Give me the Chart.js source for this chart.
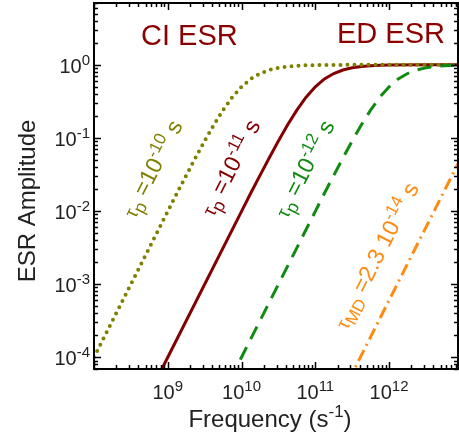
<!DOCTYPE html>
<html><head><meta charset="utf-8">
<script src="https://cdn.jsdelivr.net/npm/chart.js@4/dist/chart.umd.min.js"></script>
<style>html,body{margin:0;padding:0;background:#fff;}canvas{display:block;}</style>
</head><body>
<canvas id="c" width="459" height="437"></canvas>
<script>
const FONT = '"Liberation Sans", Arial, sans-serif';

// Axis ticks (labels drawn as 10 + superscript exponent)
const xMajorTicks = [1e9, 1e10, 1e11, 1e12];
const xMajorExp = ['9', '10', '11', '12'];
const yMajorTicks = [1, 0.1, 0.01, 0.001, 0.0001];
const yMajorExp = ['0', '-1', '-2', '-3', '-4'];

// Series: ESR amplitude vs frequency
const freqTau10 = [1e8, 1e9, 1.33e9, 1.78e9, 2.37e9, 3.16e9, 4.22e9, 5.62e9, 7.5e9, 1e10, 1.33e10, 1.78e10, 2.37e10, 3.16e10, 4.22e10, 5.62e10, 7.5e10, 1e11, 3.16e11, 1e12, 8.6e12];
const ampTau10  = [1e-4, 0.0099, 0.0175, 0.0307, 0.0532, 0.0909, 0.151, 0.240, 0.360, 0.500, 0.640, 0.760, 0.849, 0.909, 0.947, 0.969, 0.983, 0.990, 0.999, 1.0, 1.0];

const freqTau11 = [1e8, 1e9, 1e10, 1.33e10, 1.78e10, 2.37e10, 3.16e10, 4.22e10, 5.62e10, 7.5e10, 1e11, 1.33e11, 1.78e11, 2.37e11, 3.16e11, 4.22e11, 5.62e11, 7.5e11, 1e12, 3.16e12, 8.6e12];
const ampTau11  = [1e-6, 1e-4, 0.0099, 0.0175, 0.0307, 0.0532, 0.0909, 0.151, 0.240, 0.360, 0.500, 0.640, 0.760, 0.849, 0.909, 0.947, 0.969, 0.983, 0.990, 0.999, 1.0];

const freqTau12 = [1e9, 1e10, 1e11, 1.33e11, 1.78e11, 2.37e11, 3.16e11, 4.22e11, 5.62e11, 7.5e11, 1e12, 1.33e12, 1.78e12, 2.37e12, 3.16e12, 4.22e12, 5.62e12, 7.5e12, 1e13];
const ampTau12  = [1e-6, 1e-4, 0.0099, 0.0175, 0.0307, 0.0532, 0.0909, 0.151, 0.240, 0.360, 0.500, 0.640, 0.760, 0.849, 0.909, 0.947, 0.969, 0.983, 0.990];

const freqTauMD = [1e11, 1e12, 3e12, 1e13];
const ampTauMD  = [6.0e-6, 6.0e-4, 5.4e-3, 0.06];

function pts(f, a) { return f.map((v, i) => ({ x: v, y: a[i] })); }

function runsWidth(ctx, runs) {
  let w = 0;
  for (const r of runs) { ctx.font = (r.italic ? 'italic ' : '') + r.size + 'px ' + FONT; w += ctx.measureText(r.t).width; }
  return w;
}
function drawRuns(ctx, runs, x, y, align) {
  const w = runsWidth(ctx, runs);
  let cx = align === 'center' ? x - w / 2 : align === 'right' ? x - w : x;
  ctx.textAlign = 'left'; ctx.textBaseline = 'alphabetic';
  for (const r of runs) {
    ctx.font = (r.italic ? 'italic ' : '') + r.size + 'px ' + FONT;
    ctx.fillText(r.t, cx, y + (r.dy || 0));
    cx += ctx.measureText(r.t).width;
  }
}

const curveLabels = [
  { cx: 153, cy: 169, color: '#808000', runs: [{t:'τ',size:19},{t:'p',size:18,dy:5},{t:' =10',size:23},{t:'-10',size:17,dy:-9},{t:' s',size:23}] },
  { cx: 231, cy: 168, color: '#840000', runs: [{t:'τ',size:19},{t:'p',size:18,dy:5},{t:' =10',size:23},{t:'-11',size:17,dy:-9},{t:' s',size:23}] },
  { cx: 305, cy: 169, color: '#118a11', runs: [{t:'τ',size:19},{t:'p',size:18,dy:5},{t:' =10',size:23},{t:'-12',size:17,dy:-9},{t:' s',size:23}] },
  { cx: 377, cy: 256, color: '#ff8a10', runs: [{t:'τ',size:19},{t:'MD',size:17,dy:5},{t:' =2.3 10',size:23},{t:'-14',size:17,dy:-9},{t:' s',size:23}] }
];

const decor = {
  id: 'decor',
  beforeDraw(chart) {
    const ctx = chart.ctx;
    ctx.save(); ctx.fillStyle = '#fff'; ctx.fillRect(0, 0, chart.width, chart.height); ctx.restore();
  },
  afterDraw(chart) {
    const ctx = chart.ctx, xs = chart.scales.x, ys = chart.scales.y, a = chart.chartArea;
    ctx.save();
    ctx.strokeStyle = '#000'; ctx.lineWidth = 1.5;
    // x ticks
    for (let e = 8; e <= 12; e++) {
      for (let m = 1; m <= 9; m++) {
        const v = m * Math.pow(10, e);
        if (v < xs.min || v > xs.max) continue;
        const px = Math.round(xs.getPixelForValue(v)) + 0.5;
        const len = m === 1 ? 7 : 4;
        ctx.beginPath(); ctx.moveTo(px, a.bottom); ctx.lineTo(px, a.bottom - len);
        ctx.moveTo(px, a.top); ctx.lineTo(px, a.top + len); ctx.stroke();
      }
    }
    // y ticks
    for (let e = -5; e <= 0; e++) {
      for (let m = 1; m <= 9; m++) {
        const v = m * Math.pow(10, e);
        if (v < ys.min || v > ys.max) continue;
        const py = Math.round(ys.getPixelForValue(v)) + 0.5;
        const len = m === 1 ? 7 : 4;
        ctx.beginPath(); ctx.moveTo(a.left, py); ctx.lineTo(a.left + len, py);
        ctx.moveTo(a.right, py); ctx.lineTo(a.right - len, py); ctx.stroke();
      }
    }
    // frame
    ctx.lineWidth = 2;
    ctx.strokeRect(a.left, a.top, a.right - a.left, a.bottom - a.top);

    // tick labels
    ctx.fillStyle = '#222';
    xMajorTicks.forEach((v, i) => {
      drawRuns(ctx, [{t:'10',size:20},{t:xMajorExp[i],size:15,dy:-8}], xs.getPixelForValue(v), 399, 'center');
    });
    yMajorTicks.forEach((v, i) => {
      drawRuns(ctx, [{t:'10',size:20},{t:yMajorExp[i],size:15,dy:-8}], 90, ys.getPixelForValue(v) + 8, 'right');
    });
    // axis titles
    drawRuns(ctx, [{t:'Frequency (s',size:24},{t:'-1',size:17,dy:-10},{t:')',size:24}], 270, 427, 'center');
    ctx.save(); ctx.translate(35, 201); ctx.rotate(-Math.PI / 2);
    drawRuns(ctx, [{t:'ESR Amplitude',size:24}], 0, 0, 'center');
    ctx.restore();

    // region labels
    ctx.fillStyle = '#8b0000';
    drawRuns(ctx, [{t:'CI ESR',size:29}], 141, 45, 'left');
    drawRuns(ctx, [{t:'ED ESR',size:29}], 337, 43, 'left');

    // curve labels
    for (const L of curveLabels) {
      ctx.save(); ctx.fillStyle = L.color; ctx.translate(L.cx, L.cy); ctx.rotate(-63 * Math.PI / 180);
      drawRuns(ctx, L.runs, 0, 7, 'center');
      ctx.restore();
    }
    ctx.restore();
  }
};

new Chart(document.getElementById('c'), {
  type: 'line',
  data: {
    datasets: [
      { data: pts(freqTauMD, ampTauMD), borderColor: '#ff8a10', borderWidth: 3, borderDash: [12, 5, 2, 5], order: 1 },
      { data: pts(freqTau12, ampTau12), borderColor: '#118a11', borderWidth: 3, borderDash: [14, 9], order: 2 },
      { data: pts(freqTau10, ampTau10), borderColor: '#808000', borderWidth: 4, borderDash: [0, 7], borderCapStyle: 'round', order: 3 },
      { data: pts(freqTau11, ampTau11), borderColor: '#840000', borderWidth: 3, order: 4 }
    ]
  },
  options: {
    responsive: false, animation: false, devicePixelRatio: 1,
    layout: { padding: { left: 94, top: 3, right: 1, bottom: 68 } },
    elements: { point: { radius: 0, hoverRadius: 0 }, line: { tension: 0, fill: false } },
    datasets: { line: { clip: 0 } },
    plugins: { legend: { display: false }, tooltip: { enabled: false } },
    scales: {
      x: { type: 'logarithmic', min: 1e8, max: 8.6e12, display: false },
      y: { type: 'logarithmic', min: 6.9e-5, max: 7, display: false }
    }
  },
  plugins: [decor]
});
</script>
</body></html>
